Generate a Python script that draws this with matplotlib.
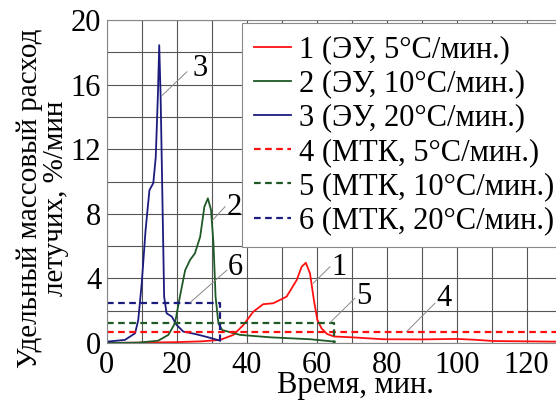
import matplotlib
matplotlib.use("Agg")
import matplotlib.pyplot as plt

plt.rcParams['font.family'] = ['Liberation Serif', 'DejaVu Serif']
plt.rcParams['font.size'] = 22

# кривые ЭУ (время, мин / скорость, %/мин)
t1 = [0, 10, 20, 27, 32.4, 36.2, 39, 41.9, 44.7, 47.6, 51.4, 54.3, 55.7, 56.9, 58.1, 59.2, 60.2,
      61.4, 63, 65, 70, 79, 90, 100, 105, 110.5, 120, 128, 140]
v1 = [0, 0.02, 0.05, 0.1, 0.19, 0.5, 1.1, 1.94, 2.4, 2.46, 2.87, 3.9, 4.72, 4.97, 4.3, 2.66, 1.42,
      0.9, 0.55, 0.4, 0.35, 0.23, 0.22, 0.25, 0.2, 0.12, 0.1, 0.08, 0.06]
t2 = [0, 9, 14.7, 17.6, 19.5, 20.9, 22.4, 23.8, 25.2, 26.7, 27.9, 28.9, 29.8, 30.5, 31.1, 31.9,
      33.0, 38.1, 46.7, 58.1, 65.2]
v2 = [0, 0.02, 0.14, 0.5, 1.22, 2.87, 4.5, 5.14, 5.55, 6.58, 8.44, 8.96, 8.24, 6.17, 2.87, 1.22,
      0.8, 0.5, 0.35, 0.23, 0.08]
t3 = [0, 5.2, 8.1, 9.0, 10.0, 11.1, 12.2, 13.3, 14.0, 14.6, 15.0, 15.4, 15.9, 16.4, 17.1, 18.6,
      20, 21.9, 25.2, 29.0, 32.4]
v3 = [0.08, 0.19, 0.6, 1.42, 3.7, 7.0, 9.47, 9.9, 11.5, 15.25, 18.45, 15.25, 9.06, 2.87, 1.84,
      1.63, 1.11, 0.7, 0.56, 0.35, 0.14]

# МТК: постоянная скорость и время окончания
mtk_v = [0.66, 1.26, 2.46]
mtk_end = [140, 65, 32.4]

labels = ["1 (ЭУ, 5°С/мин.)", "2 (ЭУ, 10°С/мин.)", "3 (ЭУ, 20°С/мин.)",
          "4 (МТК, 5°С/мин.)", "5 (МТК, 10°С/мин.)", "6 (МТК, 20°С/мин.)"]
colors = ['#ff1010', '#1f5a26', '#1c1c7e']

# подписи кривых: номер, позиция текста, начало и конец выноски
notes = [("1", (64.3, 4.67), (63.8, 4.72), (59, 3.7)),
         ("2", (34.3, 8.4), (33.8, 8.44), (30.2, 7.6)),
         ("3", (24.4, 17.0), (22.9, 16.8), (15.9, 15.35)),
         ("4", (94.1, 2.78), (93.8, 2.46), (85.7, 0.7)),
         ("5", (71.4, 2.9), (70.9, 2.77), (63.8, 1.26)),
         ("6", (34.7, 4.67), (34.3, 4.5), (23.8, 2.5))]

fig = plt.figure(figsize=(5.56, 4.03), dpi=100)
ax = fig.add_axes([0.192, 0.149, 0.881, 0.801])

lines = []
for t, v, c in zip([t1, t2, t3], [v1, v2, v3], colors):
    l, = ax.plot(t, v, color=c, lw=1.3)
    lines.append(l)
for yv, te, c in zip(mtk_v, mtk_end, colors):
    l, = ax.plot([0, te, te], [yv, yv, 0], color=c, lw=1.6, ls=(0, (3, 2)))
    lines.append(l)

for txt, xy_t, xy_s, xy_e in notes:
    ax.plot([xy_s[0], xy_e[0]], [xy_s[1], xy_e[1]], color='#888888', lw=0.7)
    ax.text(xy_t[0], xy_t[1], txt, ha='left', va='center')

ax.set_xlim(0, 140)
ax.set_ylim(0, 20)
ax.set_xticks(range(0, 130, 20))
ax.set_xticks(range(0, 141, 10), minor=True)
ax.set_yticks(range(0, 21, 4))
ax.set_yticks(range(0, 21, 2), minor=True)
ax.grid(True, which='both', color='#555555', lw=0.8)
ax.set_axisbelow(True)
ax.tick_params(which='both', length=0)
ax.tick_params(axis='x', pad=6)
ax.tick_params(axis='y', pad=4)
for s in ax.spines.values():
    s.set_color('#888888')

fig.text(355 / 556, 1 - 386 / 403, "Время, мин.", ha='center', va='center')
fig.text(43 / 556, 1 - 198 / 403, "Удельный массовый расход\nлетучих, %/мин",
         rotation=90, ha='center', va='center', fontsize=21, linespacing=1.0)

leg = ax.legend(lines, labels, loc='upper left', bbox_to_anchor=(242 / 556, 1 - 23 / 403),
                bbox_transform=fig.transFigure,
                handlelength=1.2, handletextpad=0.25, labelspacing=0.17, borderpad=0.4,
                fancybox=False, framealpha=1, edgecolor='#888888', borderaxespad=0)
leg.get_frame().set_linewidth(0.8)

fig.savefig("out.png", dpi=100)
